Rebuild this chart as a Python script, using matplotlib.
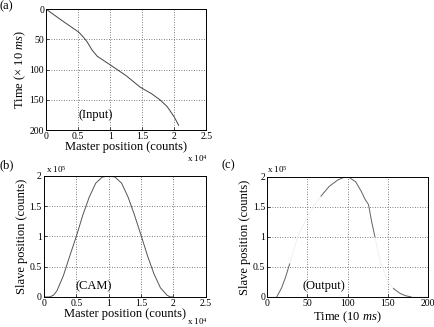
import matplotlib
matplotlib.use("Agg")
import matplotlib.pyplot as plt
import numpy as np

plt.rcParams['font.family'] = ['Liberation Serif', 'DejaVu Serif']
plt.rcParams['mathtext.fontset'] = 'custom'
plt.rcParams['mathtext.rm'] = 'Liberation Serif'
plt.rcParams['mathtext.it'] = 'Liberation Serif:italic'

# (a) input: master position (x 1e4) vs time (x 10 ms)
in_master = [0.0, 0.25, 0.51, 0.58, 0.64, 0.72, 0.80, 1.0, 1.25, 1.47, 1.65, 1.78, 1.89, 2.0, 2.07]
in_time = [0, 19, 38, 46, 54, 68, 78, 92, 110, 129, 140, 150, 161, 178, 192]

# (b) cam profile: master position (x 1e4) vs slave position (x 1e5)
cam_master = [0.0, 0.09, 0.15, 0.2, 0.3, 0.4, 0.5, 0.6, 0.7, 0.8, 0.9, 1.0, 1.1, 1.2,
              1.3, 1.4, 1.5, 1.6, 1.7, 1.8, 1.9, 1.95, 2.0]
cam_slave = [0.0, 0.0, 0.03, 0.1, 0.35, 0.68, 1.0, 1.35, 1.65, 1.88, 1.98, 2.0, 1.98, 1.88,
             1.65, 1.35, 1.02, 0.68, 0.38, 0.15, 0.03, 0.0, 0.0]

# (c) output: time (x 10 ms) vs slave position (x 1e5)
out_time = [0, 12, 18, 23, 28, 38, 48, 57, 67, 77, 88, 95, 101, 110, 117, 122, 126, 130, 134,
            140, 150, 157, 165, 172, 179, 200]
out_slave = [0.0, 0.0, 0.15, 0.33, 0.55, 1.0, 1.28, 1.49, 1.68, 1.84, 1.95, 1.99, 2.0, 1.92,
             1.76, 1.62, 1.54, 1.25, 1.0, 0.62, 0.25, 0.14, 0.06, 0.02, 0.0, 0.0]
# parts of the scanned curve that are still visible
out_visible = [(12, 28), (67, 134), (155, 180)]

fig = plt.figure(figsize=(4.35, 3.27), dpi=100)
fs_tick = 7
fs_lab = 9


def style(ax):
    ax.grid(True, linestyle=(0, (1, 2)), color='#555555', linewidth=0.6)
    ax.tick_params(direction='in', labelsize=fs_tick, length=2, width=0.5, pad=1.5)
    for s in ax.spines.values():
        s.set_linewidth(0.7)


# (a)
ax1 = fig.add_axes([0.106, 0.602, 0.368, 0.370])
ax1.plot(in_master, in_time, color='#444444', linewidth=0.7)
ax1.set_xlim(0, 2.5)
ax1.set_ylim(200, 0)
ax1.set_xticks([0, 0.5, 1, 1.5, 2, 2.5])
ax1.set_xticklabels(['0', '0.5', '1', '1.5', '2', '2.5'])
ax1.set_yticks([0, 50, 100, 150, 200])
style(ax1)
ax1.set_xlabel('Master position (counts)', fontsize=fs_lab, labelpad=0)
ax1.set_ylabel(r'Time ($\times$ 10 $\mathit{ms}$)', fontsize=fs_lab, labelpad=1)
ax1.text(0.77, 175, '(Input)', fontsize=fs_lab, ha='center', va='center')
fig.text(0.43, 0.505, r'x 10$^4$', fontsize=6.5)
fig.text(0.0, 0.972, '(a)', fontsize=fs_lab)

# (b)
ax2 = fig.add_axes([0.101, 0.092, 0.372, 0.370])
ax2.plot(cam_master, cam_slave, color='#555555', linewidth=0.7)
ax2.set_xlim(0, 2.5)
ax2.set_ylim(0, 2)
ax2.set_xticks([0, 0.5, 1, 1.5, 2, 2.5])
ax2.set_xticklabels(['0', '0.5', '1', '1.5', '2', '2.5'])
ax2.set_yticks([0, 0.5, 1, 1.5, 2])
ax2.set_yticklabels(['0', '0.5', '1', '1.5', '2'])
style(ax2)
ax2.set_xlabel('Master position (counts)', fontsize=fs_lab, labelpad=0)
ax2.set_ylabel('Slave position (counts)', fontsize=fs_lab, labelpad=1)
ax2.text(0.77, 0.18, '(CAM)', fontsize=fs_lab, ha='center', va='center')
fig.text(0.43, 0.005, r'x 10$^4$', fontsize=6.5)
fig.text(0.105, 0.47, r'x 10$^5$', fontsize=6.5)
fig.text(0.0, 0.485, '(b)', fontsize=fs_lab)

# (c)
ax3 = fig.add_axes([0.614, 0.092, 0.370, 0.367])
ax3.plot(out_time, out_slave, color='#eeeeee', linewidth=0.6)
t = np.array(out_time)
v = np.array(out_slave)
for a, b in out_visible:
    m = (t >= a) & (t <= b)
    ax3.plot(t[m], v[m], color='#666666', linewidth=0.7)
ax3.set_xlim(0, 200)
ax3.set_ylim(0, 2)
ax3.set_xticks([0, 50, 100, 150, 200])
ax3.set_yticks([0, 0.5, 1, 1.5, 2])
ax3.set_yticklabels(['0', '0.5', '1', '1.5', '2'])
style(ax3)
ax3.set_xlabel(r'Time (10 $\mathit{ms}$)', fontsize=fs_lab, labelpad=1)
ax3.set_ylabel('Slave position (counts)', fontsize=fs_lab, labelpad=1)
ax3.text(70, 0.18, '(Output)', fontsize=fs_lab, ha='center', va='center')
fig.text(0.614, 0.47, r'x 10$^5$', fontsize=6.5)
fig.text(0.51, 0.485, '(c)', fontsize=fs_lab)

fig.savefig('out.png', dpi=100)
